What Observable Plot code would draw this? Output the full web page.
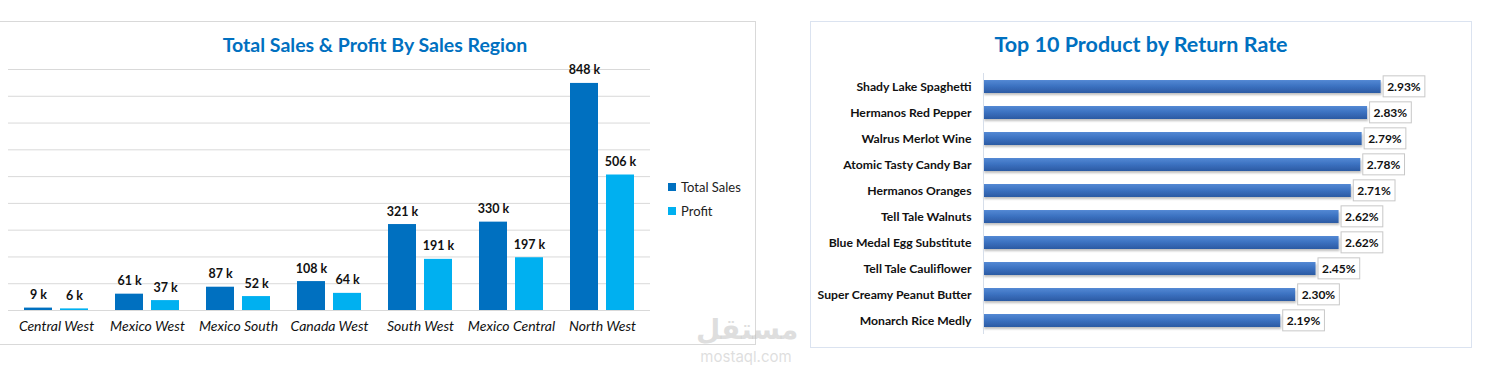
<!DOCTYPE html>
<html>
<head>
<meta charset="utf-8">
<script src="https://cdn.jsdelivr.net/npm/d3@7"></script>
<script src="https://cdn.jsdelivr.net/npm/@observablehq/plot@0.6"></script>
<style>
  html, body { margin: 0; padding: 0; background: #fff; }
  body { width: 1490px; height: 373px; position: relative; overflow: hidden; font-family: Lato, "Open Sans", sans-serif; }
  .panel { position: absolute; box-sizing: border-box; background: #fff; }
  #p1 { left: -2px; top: 21px; width: 758px; height: 324px; border: 1px solid #d9d9d9; }
  #p2 { left: 810px; top: 21px; width: 662px; height: 327px; border: 1px solid #dbe3f0; }
  .title { position: absolute; font-weight: bold; color: #0070c0; white-space: nowrap; transform: translate(-50%, -50%); }
  #t1 { left: 375px; top: 44px; font-size: 19.5px; }
  #t2 { left: 1141px; top: 44px; font-size: 21.5px; }
  .chart { position: absolute; }
  #c1 { left: 0px; top: 55px; }
  #c2 { left: 810px; top: 60px; }
  .legend { position: absolute; left: 668px; font-size: 13px; color: #222; display: flex; align-items: center; white-space: nowrap; }
  .legend span.sw { display: inline-block; width: 8px; height: 8px; margin-right: 5px; }
  #wm { position: absolute; left: 696px; top: 316px; color: rgba(190,190,190,0.5); text-align: center; width: 100px; }
  #wm .ar { font-family: "DejaVu Sans", sans-serif; font-size: 28px; font-weight: bold; line-height: 28px; height: 30px; }
  #wm .en { font-family: Inter, sans-serif; font-size: 15px; line-height: 16px; margin-top: 3px; }
</style>
</head>
<body>
<div class="panel" id="p1"></div>
<div class="panel" id="p2"></div>
<div class="title" id="t1">Total Sales &amp; Profit By Sales Region</div>
<div class="title" id="t2">Top 10 Product by Return Rate</div>
<div class="chart" id="c1"></div>
<div class="chart" id="c2"></div>
<div class="legend" style="top:179px"><span class="sw" style="background:#0070C0"></span>Total Sales</div>
<div class="legend" style="top:203px"><span class="sw" style="background:#00B0F0"></span>Profit</div>
<div id="wm"><div class="ar">مستقل</div><div class="en">mostaql.com</div></div>
<script>
// ---- Left chart data ----
const regions = ["Central West", "Mexico West", "Mexico South", "Canada West", "South West", "Mexico Central", "North West"];
const totalSales = [9, 61, 87, 108, 321, 330, 848]; // thousands
const profit = [6, 37, 52, 64, 191, 197, 506];     // thousands
const salesTicks = [0, 100, 200, 300, 400, 500, 600, 700, 800, 900];

// ---- Right chart data ----
const products = ["Shady Lake Spaghetti", "Hermanos Red Pepper", "Walrus Merlot Wine", "Atomic Tasty Candy Bar", "Hermanos Oranges", "Tell Tale Walnuts", "Blue Medal Egg Substitute", "Tell Tale Cauliflower", "Super Creamy Peanut Butter", "Monarch Rice Medly"];
const returnRates = [2.93, 2.83, 2.79, 2.78, 2.71, 2.62, 2.62, 2.45, 2.30, 2.19];

const FONT = "Lato, 'Open Sans', sans-serif";

const regionData = regions.map((r, i) => ({region: r, sales: totalSales[i], profit: profit[i]}));

const c1 = Plot.plot({
  width: 660,
  height: 290,
  marginLeft: 8,
  marginRight: 10,
  marginTop: 14,
  marginBottom: 35,
  style: {fontFamily: FONT, fontSize: "13px", background: "transparent", color: "#000"},
  x: {domain: regions, paddingInner: 0.3, paddingOuter: 0.15, label: null},
  y: {domain: [0, 900], axis: null},
  marks: [
    Plot.gridY(salesTicks, {stroke: "#d9d9d9", strokeOpacity: 1}),
    Plot.barY(regionData, {x: "region", y: "sales", fill: "#0070C0", insetRight: 36}),
    Plot.barY(regionData, {x: "region", y: "profit", fill: "#00B0F0", insetLeft: 36}),
    Plot.text(regionData, {x: "region", y: "sales", text: d => `${d.sales} k`, dx: -18, dy: -13, fontWeight: "bold", fontSize: 12.5, fill: "#111"}),
    Plot.text(regionData, {x: "region", y: "profit", text: d => `${d.profit} k`, dx: 18, dy: -13, fontWeight: "bold", fontSize: 12.5, fill: "#111"}),
    Plot.axisX({tickSize: 0, tickPadding: 11, fontStyle: "italic", fontSize: 14, fill: "#111", label: null})
  ]
});
document.getElementById("c1").appendChild(c1);

const productData = products.map((p, i) => ({name: p, rate: returnRates[i]}));

const c2 = Plot.plot({
  width: 660,
  height: 285,
  marginLeft: 173,
  marginRight: 12,
  marginTop: 13,
  marginBottom: 11,
  style: {fontFamily: FONT, fontSize: "12px", background: "transparent", color: "#000"},
  x: {domain: [0, 3.5], axis: null},
  y: {domain: products, paddingInner: 0.5, paddingOuter: 0.25, label: null},
  marks: [
    Plot.barX(productData, {y: "name", x: "rate", fill: "url(#barGrad)"}),
    Plot.ruleX([0], {stroke: "#d6deea"}),
    Plot.text(productData, {y: "name", x: "rate", text: d => d.rate.toFixed(2) + "%", dx: 6, textAnchor: "start", fontWeight: "bold", fontSize: 12, fill: "#111", className: "vlabel"}),
    Plot.axisY({tickSize: 0, tickPadding: 12, fontWeight: "bold", fontSize: 12.2, fill: "#111", label: null})
  ]
});
document.getElementById("c2").appendChild(c2);

// gradient + shadow defs for the return-rate bars
const ns = "http://www.w3.org/2000/svg";
const defs = document.createElementNS(ns, "defs");
defs.innerHTML = `
  <linearGradient id="barGrad" x1="0" y1="0" x2="0" y2="1">
    <stop offset="0%" stop-color="#5489d4"/>
    <stop offset="45%" stop-color="#3d73c2"/>
    <stop offset="100%" stop-color="#2b5aa3"/>
  </linearGradient>
  <filter id="barShadow" x="-5%" y="-30%" width="110%" height="180%">
    <feDropShadow dx="1" dy="2" stdDeviation="1" flood-color="#000" flood-opacity="0.25"/>
  </filter>`;
c2.insertBefore(defs, c2.firstChild);
c2.querySelectorAll("g[aria-label='bar'] rect").forEach(r => r.setAttribute("filter", "url(#barShadow)"));

// boxes behind value labels
const labelG = c2.querySelector("g.vlabel") || [...c2.querySelectorAll("g[aria-label='text']")][0];
if (labelG) {
  labelG.querySelectorAll("text").forEach(t => {
    const b = t.getBBox();
    const rect = document.createElementNS(ns, "rect");
    rect.setAttribute("x", b.x - 4);
    rect.setAttribute("y", b.y - 3);
    rect.setAttribute("width", b.width + 8);
    rect.setAttribute("height", b.height + 6);
    rect.setAttribute("fill", "#fff");
    rect.setAttribute("stroke", "#c8c8c8");
    rect.setAttribute("stroke-width", "1");
    const tr = t.getAttribute("transform");
    if (tr) rect.setAttribute("transform", tr);
    t.parentNode.insertBefore(rect, t);
  });
}
</script>
</body>
</html>
